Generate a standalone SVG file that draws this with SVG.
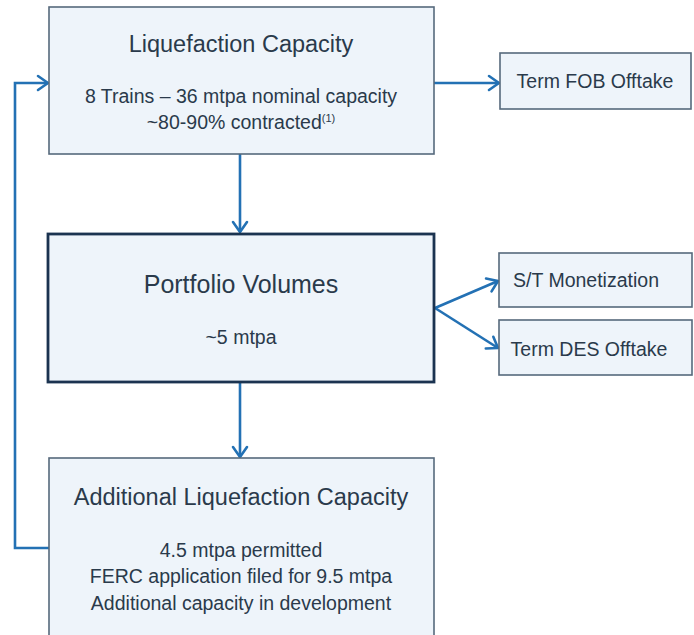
<svg xmlns="http://www.w3.org/2000/svg" width="694" height="635" viewBox="0 0 694 635">
  <style>
    .box { fill: #eef4fa; stroke: #56697c; stroke-width: 1.6; }
    .box.main { stroke: #1b3350; stroke-width: 2.8; }
    text { font-family: "Liberation Sans", Arial, sans-serif; fill: #2a3a4b; text-anchor: middle; }
    .title { font-size: 23.5px; }
    .title.big { font-size: 25px; }
    .body { font-size: 19.5px; }
    .side { font-size: 19.5px; }
    .sup { font-size: 11px; }
    .conn { fill: none; stroke: #2371b4; stroke-width: 2.6; marker-end: url(#chev); }
  </style>
  <defs>
    <marker id="chev" markerUnits="userSpaceOnUse" markerWidth="16" markerHeight="18" viewBox="0 0 16 18" refX="13" refY="9" orient="auto">
      <path d="M3,2 L13,9 L3,16" fill="none" stroke="#2371b4" stroke-width="2.6" stroke-linecap="round" stroke-linejoin="round"/>
    </marker>
  </defs>

  <g id="connectors">
    <path class="conn" d="M49,548 H15 V83 H48"/>
    <path class="conn" d="M434,83 H499"/>
    <path class="conn" d="M240,154 V232"/>
    <path class="conn" d="M240,383 V457"/>
    <path class="conn" d="M435,308 L498,281"/>
    <path class="conn" d="M435,308 L498,348"/>
  </g>

  <g id="liquefaction-capacity">
    <rect class="box" x="49" y="7" width="385" height="147"/>
    <text class="title" x="241" y="52">Liquefaction Capacity</text>
    <text class="body" x="241" y="103">8 Trains – 36 mtpa nominal capacity</text>
    <text class="body" x="241" y="129">~80-90% contracted<tspan class="sup" dy="-7">(1)</tspan></text>
  </g>

  <g id="term-fob-offtake">
    <rect class="box" x="500" y="53" width="191" height="56"/>
    <text class="side" x="595" y="88">Term FOB Offtake</text>
  </g>

  <g id="portfolio-volumes">
    <rect class="box main" x="48" y="234" width="386" height="148"/>
    <text class="title big" x="241" y="293">Portfolio Volumes</text>
    <text class="body" x="241" y="344">~5 mtpa</text>
  </g>

  <g id="st-monetization">
    <rect class="box" x="499" y="253" width="193" height="54"/>
    <text class="side" x="586" y="287">S/T Monetization</text>
  </g>

  <g id="term-des-offtake">
    <rect class="box" x="499" y="320" width="193" height="55"/>
    <text class="side" x="589" y="356">Term DES Offtake</text>
  </g>

  <g id="additional-liquefaction-capacity">
    <rect class="box" x="49" y="458" width="385" height="190"/>
    <text class="title" x="241" y="505">Additional Liquefaction Capacity</text>
    <text class="body" x="241" y="557">4.5 mtpa permitted</text>
    <text class="body" x="241" y="583">FERC application filed for 9.5 mtpa</text>
    <text class="body" x="241" y="610">Additional capacity in development</text>
  </g>
</svg>
